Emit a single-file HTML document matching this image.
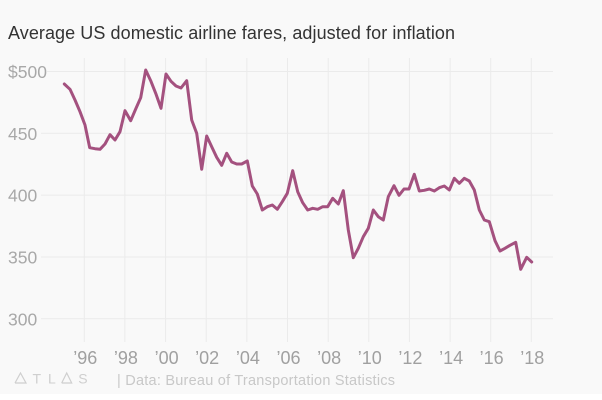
<!DOCTYPE html>
<html>
<head>
<meta charset="utf-8">
<style>
  html, body { margin: 0; padding: 0; background: #ffffff; }
  svg { display: block; }
  text { font-family: "Liberation Sans", "DejaVu Sans", sans-serif; }
</style>
</head>
<body>
<svg width="602" height="400" viewBox="0 0 602 400" xmlns="http://www.w3.org/2000/svg">
  <rect x="0" y="0" width="602" height="394" fill="#f9f9f9"/>

  <!-- Title -->
  <text x="8" y="39" font-size="18" fill="#333333" textLength="447" lengthAdjust="spacing">Average US domestic airline fares, adjusted for inflation</text>

  <!-- vertical gridlines -->
  <g stroke="#ebebeb" stroke-width="1">
    <line x1="84.3" y1="58" x2="84.3" y2="342"/>
    <line x1="124.9" y1="58" x2="124.9" y2="342"/>
    <line x1="165.6" y1="58" x2="165.6" y2="342"/>
    <line x1="206.2" y1="58" x2="206.2" y2="342"/>
    <line x1="246.9" y1="58" x2="246.9" y2="342"/>
    <line x1="287.5" y1="58" x2="287.5" y2="342"/>
    <line x1="328.2" y1="58" x2="328.2" y2="342"/>
    <line x1="368.8" y1="58" x2="368.8" y2="342"/>
    <line x1="409.4" y1="58" x2="409.4" y2="342"/>
    <line x1="450.1" y1="58" x2="450.1" y2="342"/>
    <line x1="490.7" y1="58" x2="490.7" y2="342"/>
    <line x1="531.3" y1="58" x2="531.3" y2="342"/>
  </g>
  <!-- horizontal gridlines -->
  <g stroke="#ebebeb" stroke-width="1">
    <line x1="47" y1="71.5" x2="553" y2="71.5"/>
    <line x1="41" y1="133.3" x2="553" y2="133.3"/>
    <line x1="41" y1="195.1" x2="553" y2="195.1"/>
    <line x1="41" y1="257" x2="553" y2="257"/>
    <line x1="41" y1="318.8" x2="553" y2="318.8"/>
  </g>

  <!-- y labels -->
  <g font-size="17.5" fill="#a8a8a8">
    <text x="8" y="78">$500</text>
    <text x="8" y="140">450</text>
    <text x="8" y="201.6">400</text>
    <text x="8" y="263.5">350</text>
    <text x="8" y="325.3">300</text>
  </g>

  <!-- x labels -->
  <g font-size="18" fill="#a0a0a0" text-anchor="middle">
    <text x="85.3" y="364">’96</text>
    <text x="125.9" y="364">’98</text>
    <text x="166.6" y="364">’00</text>
    <text x="207.2" y="364">’02</text>
    <text x="247.9" y="364">’04</text>
    <text x="288.5" y="364">’06</text>
    <text x="329.2" y="364">’08</text>
    <text x="369.8" y="364">’10</text>
    <text x="410.4" y="364">’12</text>
    <text x="451.1" y="364">’14</text>
    <text x="491.7" y="364">’16</text>
    <text x="532.3" y="364">’18</text>
  </g>

  <!-- series -->
  <polyline fill="none" stroke="#a4517f" stroke-width="3" stroke-linejoin="round" stroke-linecap="round"
    points="64.3,84 70,89.3 75,100 80,111.7 85,125 89.7,147.7 95,148.7 100,149.3 105,144 110,134.7 115,140 120,131.7 125,110.7 130.7,120.7 135.7,109 140.7,97.7 145.7,70 150.7,80.7 155.7,93.3 161,108.3 166,74 171,81.3 176,86 181,88 186.7,80.7 191.7,120 196.7,133.3 201.7,169.3 206.7,136 211.7,146.7 216.7,157.3 221.7,165.3 226.7,153.3 231.7,162 236.7,164 241.7,164 247.3,161 252.3,186 257.3,194 262.3,210 267.3,206.7 272.3,205 277.3,209.3 282.3,201.7 287.3,193.3 292.7,170.7 297.7,191.7 302.7,202.7 307.7,210 312.7,208.3 317.7,209.3 322.7,206.7 327.7,206.7 332.7,198.3 338.3,204 343.3,190.7 348.3,230 353.3,257.7 358.3,248.3 363.3,236.7 368.3,228.3 373.3,210 378.3,216.7 383.3,220 388.3,196.7 394,185.7 399,195.3 404,189 409,189 414.3,174.3 419.3,191 424.3,190.3 429.3,189 434.3,191 439.3,187.7 444.3,186 449.3,190 454.3,178.3 459.3,183.3 464.3,178.3 469.3,181 474.3,190 479.3,210 484.3,220 489.3,221.7 495,240.7 500,251 505,248.3 510,245.3 515.7,242.3 520.7,269.3 526.7,257.3 531.7,262"/>

  <!-- footer: ATLAS logo -->
  <g stroke="#cfcfcf" stroke-width="1.2" fill="none">
    <polyline points="15,383 20.5,373 26,383 15,383"/>
    <polyline points="61.7,383 66.7,373 71.7,383 61.7,383"/>
  </g>
  <g font-size="14" fill="#cfcfcf">
    <text x="32.5" y="383.3">T</text>
    <text x="48" y="383.3">L</text>
    <text x="78.2" y="383.3">S</text>
  </g>
  <text x="117" y="385" font-size="14.5" fill="#c8c8c8" textLength="278" lengthAdjust="spacing">| Data: Bureau of Transportation Statistics</text>
</svg>
</body>
</html>
